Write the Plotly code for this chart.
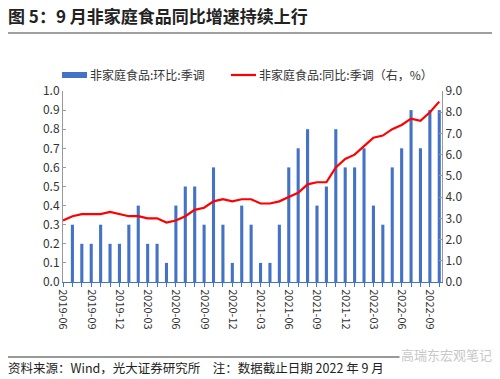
import plotly.graph_objects as go

months = ["2019-06","2019-07","2019-08","2019-09","2019-10","2019-11","2019-12",
          "2020-01","2020-02","2020-03","2020-04","2020-05","2020-06","2020-07",
          "2020-08","2020-09","2020-10","2020-11","2020-12","2021-01","2021-02",
          "2021-03","2021-04","2021-05","2021-06","2021-07","2021-08","2021-09",
          "2021-10","2021-11","2021-12","2022-01","2022-02","2022-03","2022-04",
          "2022-05","2022-06","2022-07","2022-08","2022-09"]
mom = [0.3,0.2,0.2,0.3,0.2,0.2,0.3,0.4,0.2,0.2,0.1,0.4,0.5,0.5,0.3,0.6,0.3,0.1,0.4,0.3,
       0.1,0.1,0.3,0.6,0.7,0.8,0.4,0.5,0.8,0.6,0.6,0.7,0.4,0.3,0.6,0.7,0.9,0.7,0.9,0.9]
yoy = [2.9,3.1,3.2,3.2,3.2,3.3,3.2,3.1,3.1,3.0,3.0,2.8,2.9,3.1,3.4,3.5,3.8,3.9,3.8,3.9,
       3.9,3.7,3.7,3.8,4.0,4.2,4.6,4.7,4.7,5.4,5.8,6.0,6.4,6.8,6.9,7.2,7.4,7.7,7.6,8.0,8.5]
left_ticks = [0.0,0.1,0.2,0.3,0.4,0.5,0.6,0.7,0.8,0.9,1.0]
right_ticks = [0,1,2,3,4,5,6,7,8,9]
series_names = ["非家庭食品:环比:季调", "非家庭食品:同比:季调（右，%）"]

FONT = "Noto Sans CJK SC"
W, H = 500, 379
ML, MR, MT, MB = 63, 58, 91, 97
n = len(months)
bar_x = list(range(1, n + 1))
line_x = list(range(0, len(yoy)))
tickvals = list(range(0, n + 1))
ticktext = [months[i] if (i < n and i % 3 == 0) else "" for i in tickvals]

fig = go.Figure()
fig.add_trace(go.Bar(x=bar_x, y=mom, name=series_names[0],
                     marker=dict(color="#4472C4", line=dict(width=0)), width=0.33))
fig.add_trace(go.Scatter(x=line_x, y=yoy, name=series_names[1],
                         mode="lines", line=dict(color="#FF0000", width=2.2), yaxis="y2"))

fig.update_layout(
    width=W, height=H,
    margin=dict(l=ML, r=MR, t=MT, b=MB, autoexpand=False),
    paper_bgcolor="white", plot_bgcolor="white",
    font=dict(family=FONT, size=11, color="#333333"),
    showlegend=False,
    xaxis=dict(range=[0, 40.29], tickmode="array", tickvals=tickvals, ticktext=ticktext,
               tickangle=90, showgrid=False, zeroline=False,
               showline=True, linecolor="#4472C4", linewidth=1,
               ticks="outside", ticklen=4, tickcolor="#4472C4",
               tickfont=dict(size=11, color="#333333")),
    yaxis=dict(range=[0, 1.0], tickvals=left_ticks,
               ticktext=[f"{v:.1f}" for v in left_ticks],
               showgrid=False, zeroline=False, showline=True, linecolor="#999999",
               ticks="inside", ticklen=3, tickcolor="#999999",
               tickfont=dict(size=12, color="#333333")),
    yaxis2=dict(range=[0, 9.0], tickvals=right_ticks,
                ticktext=[f"{v:.1f}" for v in right_ticks],
                overlaying="y", side="right", showgrid=False, zeroline=False,
                showline=True, linecolor="#999999",
                ticks="inside", ticklen=3, tickcolor="#999999",
                tickfont=dict(size=12, color="#333333")),
)

plot_w = W - ML - MR
plot_h = H - MT - MB
def px_x(x):
    return (x - ML) / plot_w
def px_y(y):
    return (H - MB - y) / plot_h

# title
fig.add_annotation(text="<b>图 5：9 月非家庭食品同比增速持续上行</b>", xref="paper", yref="paper",
                   x=px_x(6), y=px_y(15), showarrow=False, xanchor="left", yanchor="middle",
                   font=dict(size=17, color="#222222", family=FONT))
fig.add_shape(type="line", xref="paper", yref="paper", x0=px_x(8), x1=px_x(492),
              y0=px_y(33), y1=px_y(33), line=dict(color="#7F7F7F", width=1.5))

# custom legend
fig.add_shape(type="rect", xref="paper", yref="paper", x0=px_x(62), x1=px_x(87),
              y0=px_y(78), y1=px_y(72), line=dict(width=0), fillcolor="#4472C4")
fig.add_annotation(text=series_names[0], xref="paper", yref="paper", x=px_x(88), y=px_y(75),
                   showarrow=False, xanchor="left", yanchor="middle",
                   font=dict(size=12, color="#333333", family=FONT))
fig.add_shape(type="line", xref="paper", yref="paper", x0=px_x(231), x1=px_x(256),
              y0=px_y(75), y1=px_y(75), line=dict(color="#FF0000", width=2.2))
fig.add_annotation(text=series_names[1], xref="paper", yref="paper", x=px_x(257), y=px_y(75),
                   showarrow=False, xanchor="left", yanchor="middle",
                   font=dict(size=12, color="#333333", family=FONT))

# footer
fig.add_shape(type="line", xref="paper", yref="paper", x0=px_x(8), x1=px_x(492),
              y0=px_y(357), y1=px_y(357), line=dict(color="#333333", width=1))
fig.add_annotation(text="资料来源：Wind，光大证券研究所　注：数据截止日期 2022 年 9 月",
                   xref="paper", yref="paper", x=px_x(6), y=px_y(367),
                   showarrow=False, xanchor="left", yanchor="middle",
                   font=dict(size=12.5, color="#222222", family=FONT))
fig.add_annotation(text="高瑞东宏观笔记", xref="paper", yref="paper",
                   x=px_x(494), y=px_y(354), showarrow=False, xanchor="right",
                   yanchor="middle", font=dict(size=13, color="#C8C8C8", family=FONT),
                   bgcolor="white")

fig.write_html("out.html", config={"displayModeBar": False},
               post_script="document.body.style.margin='0';document.body.style.overflow='hidden';")
